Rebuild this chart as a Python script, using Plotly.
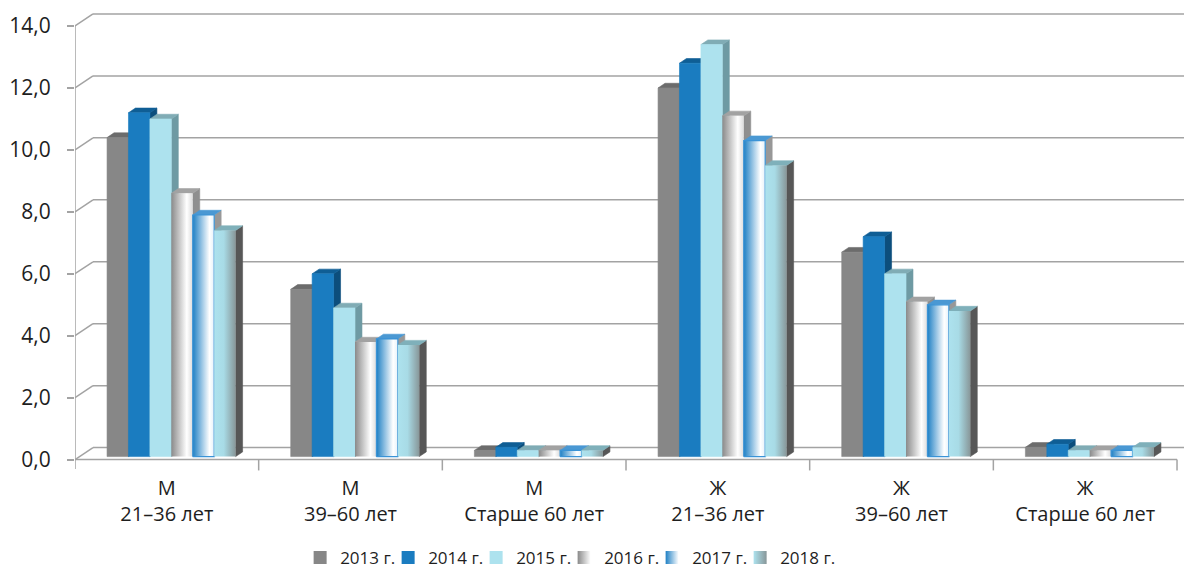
import plotly.graph_objects as go

# ---- data -------------------------------------------------------------
categories = ["М<br>21–36 лет", "М<br>39–60 лет", "М<br>Старше 60 лет",
              "Ж<br>21–36 лет", "Ж<br>39–60 лет", "Ж<br>Старше 60 лет"]
series_names = ["2013 г.", "2014 г.", "2015 г.", "2016 г.", "2017 г.", "2018 г."]
v2013 = [10.3, 5.4, 0.2, 11.9, 6.6, 0.3]
v2014 = [11.1, 5.9, 0.3, 12.7, 7.1, 0.4]
v2015 = [10.9, 4.8, 0.2, 13.3, 5.9, 0.2]
v2016 = [8.5, 3.7, 0.2, 11.0, 5.0, 0.2]
v2017 = [7.8, 3.8, 0.2, 10.2, 4.9, 0.2]
v2018 = [7.3, 3.6, 0.2, 9.4, 4.7, 0.3]
series_values = [v2013, v2014, v2015, v2016, v2017, v2018]
y_ticks = [0, 2, 4, 6, 8, 10, 12, 14]

# ---- styling ----------------------------------------------------------
FONT = "Open Sans"
GRID = "#a3a3a3"
# (front fill / gradient, top colour, side colour, outline)
styles = [
    dict(front="#878787", grad=None, top="#6c6c6c", side="#5d5d5d", line=None),
    dict(front="#1a7cc0", grad=None, top="#0f5e95", side="#0c4e7c", line=None),
    dict(front="#ade2ee", grad=None, top="#80acb5", side="#6e9aa3", line=None),
    dict(front="#bdbdbd", grad=[[0, "#8a8a8a"], [0.72, "#ffffff"], [1, "#dcdcdc"]],
         top="#a2a2a2", side="#8f8f8f", line=None),
    dict(front="#7ab8e4", grad=[[0, "#1f80c4"], [0.78, "#ffffff"], [1, "#e6f2fa"]],
         top="#4a98d3", side="#989898", line="#3a93d6"),
    dict(front="#a3cfd8", grad=[[0, "#ade2ee"], [0.45, "#a8dbe6"], [1, "#889799"]],
         top="#7fb0ba", side="#575757", line=None),
]
legend_marker = [
    dict(color="#878787"),
    dict(color="#1a7cc0"),
    dict(color="#ade2ee"),
    dict(color="#8a8a8a", gradient=dict(type="horizontal", color="#ffffff")),
    dict(color="#1f80c4", gradient=dict(type="horizontal", color="#ffffff")),
    dict(color="#ade2ee", gradient=dict(type="horizontal", color="#889799")),
]

# ---- 3-D projection constants (axis units) ----------------------------
N = len(categories)
X_MAX = 6.038           # right end of the visible x range
Y_MIN, Y_MAX = -0.4, 14.45
WALL_DX, WALL_DY = 0.098, 0.387    # depth of the floor / back wall
BAR_DX, BAR_DY = 0.038, 0.152      # depth of a column
FRONT_DX, FRONT_DY = 0.0245, 0.097  # shift of the column fronts into the floor
GROUP_PAD = 0.15
BAR_W = 0.70 / len(series_names)

fig = go.Figure()


def poly(xs, ys, color, grad=None, start=None, stop=None, line=None):
    kw = dict(x=xs, y=ys, fill="toself", fillcolor=color, hoverinfo="skip",
              showlegend=False)
    if line:
        kw.update(mode="lines", line=dict(color=line, width=1.2))
    else:
        kw.update(mode="lines", line=dict(color=color, width=0.6))
    if grad is not None:
        kw["mode"] = "lines" if line else "none"
        kw["fillgradient"] = dict(type="horizontal", colorscale=grad,
                                  start=start, stop=stop)
    fig.add_trace(go.Scatter(**kw))


def bar_geometry(i, j, v):
    xl = i + GROUP_PAD + j * BAR_W + FRONT_DX
    xr = xl + BAR_W
    y0 = FRONT_DY
    y1 = FRONT_DY + v
    return xl, xr, y0, y1


# columns: left to right within a group, side -> top -> front
for j, (vals, st) in enumerate(zip(series_values, styles)):
    sx, sy, tx, ty, fx, fy = [], [], [], [], [], []
    for i, v in enumerate(vals):
        xl, xr, y0, y1 = bar_geometry(i, j, v)
        sx += [xr, xr + BAR_DX, xr + BAR_DX, xr, xr, None]
        sy += [y0, y0 + BAR_DY, y1 + BAR_DY, y1, y0, None]
        tx += [xl, xr, xr + BAR_DX, xl + BAR_DX, xl, None]
        ty += [y1, y1, y1 + BAR_DY, y1 + BAR_DY, y1, None]
        fx += [xl, xr, xr, xl, xl, None]
        fy += [y0, y0, y1, y1, y0, None]
    poly(sx, sy, st["side"])
    poly(tx, ty, st["top"])
    if st["grad"] is None:
        poly(fx, fy, st["front"])
    else:
        for i, v in enumerate(vals):
            xl, xr, y0, y1 = bar_geometry(i, j, v)
            poly([xl, xr, xr, xl, xl], [y0, y0, y1, y1, y0], st["front"],
                 grad=st["grad"], start=xl, stop=xr, line=st["line"])

# legend entries
for name, mk in zip(series_names, legend_marker):
    fig.add_trace(go.Scatter(x=[None], y=[None], mode="markers", name=name,
                             marker=dict(symbol="square", size=13,
                                         line=dict(width=0), **mk)))
# blank trailing slot so the last fixed-width entry keeps its full label
fig.add_trace(go.Scatter(x=[None], y=[None], mode="markers", name="\u00a0",
                         marker=dict(symbol="square", size=1,
                                     color="rgba(0,0,0,0)",
                                     line=dict(width=0, color="rgba(0,0,0,0)")),
                         hoverinfo="skip"))

# ---- walls, floor and axis lines --------------------------------------
shapes = []
line_style = dict(color=GRID, width=1.5)
for t in y_ticks:
    # back-wall gridline and its run down the side wall
    shapes.append(dict(type="line", xref="x", yref="y", layer="below",
                       x0=WALL_DX, x1=N + WALL_DX, y0=t + WALL_DY, y1=t + WALL_DY,
                       line=line_style))
    shapes.append(dict(type="line", xref="x", yref="y", layer="below",
                       x0=0, x1=WALL_DX, y0=t, y1=t + WALL_DY, line=line_style))
# front value axis and category axis
shapes.append(dict(type="line", xref="x", yref="y", layer="below",
                   x0=0, x1=0, y0=-0.3, y1=y_ticks[-1], line=line_style))
shapes.append(dict(type="line", xref="x", yref="y", layer="below",
                   x0=0, x1=N, y0=0, y1=0, line=line_style))
for k in range(1, N + 1):
    shapes.append(dict(type="line", xref="x", yref="y", layer="below",
                       x0=k, x1=k, y0=0, y1=-0.35, line=line_style))

fig.update_layout(
    width=1184, height=570,
    margin=dict(l=75, r=0, t=12.05, b=97.6),
    paper_bgcolor="white", plot_bgcolor="white",
    separators=", ",
    font=dict(family=FONT, color="#1e1e1e"),
    shapes=shapes,
    showlegend=True,
    legend=dict(orientation="h", x=0.203, xanchor="left",
                yref="container", y=0.021, yanchor="middle",
                font=dict(size=17, family=FONT), itemwidth=30,
                entrywidth=43, entrywidthmode="pixels",
                traceorder="normal", bgcolor="rgba(0,0,0,0)"),
    xaxis=dict(range=[0, X_MAX], showgrid=False, zeroline=False, showline=False,
               tickmode="array", tickvals=[i + 0.5 for i in range(N)],
               ticktext=categories, ticks="", tickfont=dict(size=20),
               ticklabelstandoff=2, fixedrange=True),
    yaxis=dict(range=[Y_MIN, Y_MAX], showgrid=False, zeroline=False, showline=False,
               tickmode="array", tickvals=y_ticks, tickformat=".1f",
               ticks="outside", ticklen=7, tickcolor=GRID, tickwidth=1.5,
               tickfont=dict(size=21), ticklabelstandoff=12, fixedrange=True),
)

fig.write_html("out.html")
